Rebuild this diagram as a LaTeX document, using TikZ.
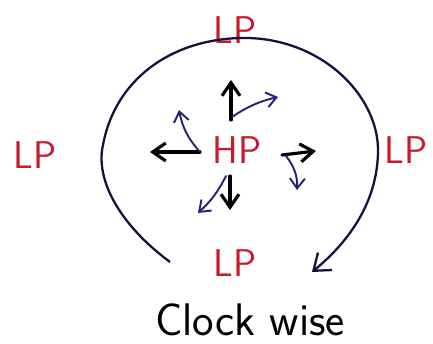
\documentclass[tikz,border=0pt]{standalone}
\usepackage{tikz}
\usetikzlibrary{arrows.meta}

\definecolor{penred}{RGB}{200,25,45}
\definecolor{penblue}{RGB}{35,35,120}

\begin{document}
\begin{tikzpicture}[x=0.2mm, y=-0.2mm,
	pressure/.style = {text = penred, font = \sffamily\fontsize{22}{26}\selectfont, inner sep = 1pt},
	wind/.style = {-{Straight Barb[length=2.6mm, width=3.6mm]}, line width = 1.8pt, line cap = round},
	turn/.style = {-{Straight Barb[length=2mm, width=3mm]}, penblue, line width = 1.1pt, line cap = round}]
	%frame
	\useasboundingbox (0,0) rectangle (433,344);
	
	%high pressure in the middle, low pressure around it
	\node [pressure] (HP) at (237,150) {HP};
	\node [pressure] (LPn) at (235,30) {LP};
	\node [pressure] (LPw) at (35,155) {LP};
	\node [pressure] (LPe) at (406,150) {LP};
	\node [pressure] (LPs) at (235,263) {LP};
	
	\node [font = \sffamily\fontsize{26}{30}\selectfont, inner sep = 0pt] (rot) at (250,320) {Clock wise};
	
	%outflow from the high
	\coordinate (uS) at (231,120);
	\coordinate (uE) at (231,80);
	\coordinate (lS) at (200,152);
	\coordinate (lE) at (150,152);
	\coordinate (rS) at (282,155);
	\coordinate (rE) at (316,151);
	\coordinate (dS) at (230,176);
	\coordinate (dE) at (230,210);
	
	\draw [wind] (uS) -- (uE);
	\draw [wind] (lS) -- (lE);
	\draw [wind] (rS) -- (rE);
	\draw [wind] (dS) -- (dE);
	
	%deflection to the right
	\coordinate (uT) at (278,97);
	\coordinate (lT) at (179,110);
	\coordinate (rT) at (297,190);
	\coordinate (dT) at (198,213);
	
	\draw [turn] (uS) ++(1,-3) coordinate (uB) (uB) to [bend left=10] (uT);
	\draw [turn] (lS) to [bend left=15] (lT);
	\draw [turn] (rS) ++(4,1) coordinate (rB) (rB) to [bend left=20] (rT);
	\draw [turn] (dS) ++(-4,0) coordinate (dB) (dB) to [bend left=10] (dT);
	
	%clockwise circulation
	\coordinate (cS) at (170,262);
	\coordinate (cE) at (312,272);
	\draw [penblue!50!black, line width = 1.3pt, -{Straight Barb[length=3mm, width=4.5mm]}]
		(cS) .. controls (120,225) and (95,180) .. (103,145)
		.. controls (115,80) and (170,40) .. (240,38)
		.. controls (320,36) and (378,95) .. (378,150)
		.. controls (378,205) and (345,245) .. (cE);
\end{tikzpicture}
\end{document}
